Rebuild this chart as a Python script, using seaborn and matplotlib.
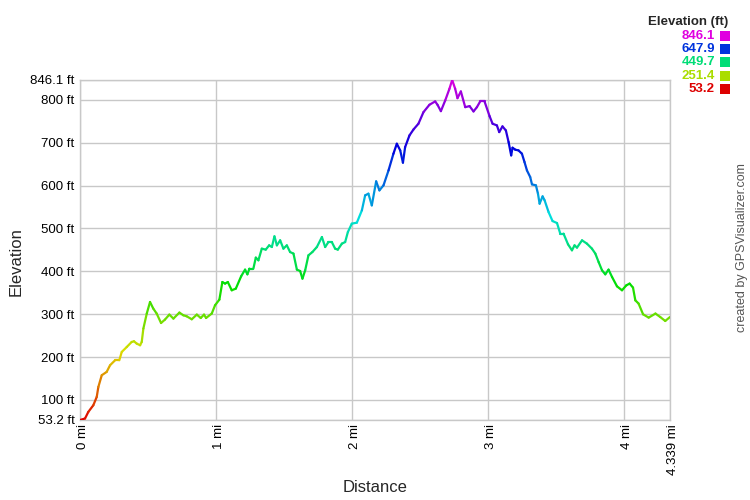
import numpy as np
import matplotlib
matplotlib.use("Agg")
import matplotlib.pyplot as plt
import matplotlib.colors as mcolors
import matplotlib.transforms as mtransforms
from matplotlib.collections import LineCollection
from matplotlib.patches import Rectangle
import seaborn as sns

# distance (mi) and elevation (ft)
distance = [
    0.0, 0.037, 0.061, 0.098, 0.123, 0.135, 0.160, 0.196, 0.221, 0.258, 0.289,
    0.307, 0.344, 0.380, 0.397, 0.417, 0.442, 0.454, 0.466, 0.491, 0.515, 0.539,
    0.564, 0.596, 0.625, 0.657, 0.687, 0.731, 0.760, 0.785, 0.822, 0.859, 0.888,
    0.912, 0.927, 0.969, 0.993, 1.025, 1.047, 1.067, 1.087, 1.116, 1.146, 1.185,
    1.214, 1.231, 1.246, 1.275, 1.293, 1.312, 1.337, 1.366, 1.391, 1.411, 1.430,
    1.448, 1.472, 1.496, 1.521, 1.545, 1.570, 1.595, 1.619, 1.636, 1.656, 1.680,
    1.709, 1.742, 1.779, 1.803, 1.827, 1.852, 1.876, 1.896, 1.926, 1.950, 1.970,
    1.999, 2.036, 2.073, 2.097, 2.121, 2.146, 2.178, 2.202, 2.232, 2.269, 2.305,
    2.330, 2.355, 2.375, 2.391, 2.423, 2.453, 2.489, 2.526, 2.570, 2.612, 2.629,
    2.654, 2.686, 2.717, 2.737, 2.759, 2.776, 2.801, 2.833, 2.865, 2.894, 2.919,
    2.943, 2.975, 3.012, 3.034, 3.066, 3.083, 3.107, 3.132, 3.152, 3.171, 3.181,
    3.201, 3.225, 3.250, 3.269, 3.287, 3.311, 3.324, 3.353, 3.368, 3.380, 3.402,
    3.417, 3.446, 3.475, 3.508, 3.532, 3.556, 3.589, 3.618, 3.637, 3.655, 3.692,
    3.728, 3.765, 3.790, 3.814, 3.839, 3.863, 3.887, 3.913, 3.949, 3.986, 4.018,
    4.042, 4.067, 4.084, 4.108, 4.141, 4.182, 4.232, 4.267, 4.304, 4.339,
]
elevation = [
    53.2, 56.7, 72.0, 87.6, 107.0, 130.3, 157.6, 165.3, 180.9, 192.5, 192.5,
    211.9, 223.5, 235.2, 236.8, 231.4, 227.5, 235.2, 266.4, 301.4, 328.4, 313.0,
    301.4, 279.4, 287.4, 299.0, 289.7, 303.7, 297.4, 295.0, 288.1, 299.0, 291.1,
    299.0, 291.1, 301.4, 320.7, 334.0, 375.0, 371.3, 375.0, 355.7, 359.6, 388.3,
    403.9, 392.9, 406.2, 406.2, 431.9, 425.6, 452.8, 450.5, 460.5, 456.6, 481.5,
    460.5, 472.2, 452.8, 460.5, 444.9, 441.2, 403.9, 400.6, 382.9, 402.3, 437.2,
    444.9, 456.6, 479.9, 456.6, 468.2, 468.2, 452.8, 450.5, 464.5, 468.2, 491.5,
    511.1, 513.4, 542.1, 577.1, 581.0, 553.7, 609.7, 588.7, 600.4, 635.3, 674.2,
    697.5, 681.9, 653.3, 689.6, 716.9, 730.9, 744.2, 771.2, 788.4, 796.1, 788.4,
    773.5, 798.5, 825.7, 846.1, 825.7, 803.8, 819.4, 782.8, 785.2, 772.8, 782.8,
    796.1, 796.1, 761.9, 744.2, 740.2, 724.6, 737.9, 728.5, 701.3, 670.3, 688.2,
    683.6, 681.9, 674.2, 654.7, 635.3, 619.7, 602.7, 600.4, 581.0, 557.7, 574.7,
    565.4, 538.1, 517.2, 512.5, 487.8, 487.8, 462.9, 448.9, 460.5, 455.2, 472.2,
    464.5, 452.8, 441.2, 421.6, 402.3, 392.9, 403.9, 386.6, 365.0, 355.7, 367.3,
    371.3, 361.9, 332.3, 324.7, 299.7, 292.0, 301.4, 293.4, 284.1, 293.4,
]

y_ticks = [53.2, 100, 200, 300, 400, 500, 600, 700, 800, 846.1]
y_labels = ["53.2 ft", "100 ft", "200 ft", "300 ft", "400 ft", "500 ft",
            "600 ft", "700 ft", "800 ft", "846.1 ft"]
x_ticks = [0, 1, 2, 3, 4, 4.339]
x_labels = ["0 mi", "1 mi", "2 mi", "3 mi", "4 mi", "4.339 mi"]
legend_values = ["846.1", "647.9", "449.7", "251.4", "53.2"]
legend_colors = ["#e000e0", "#0033dd", "#00dd77", "#aadd00", "#dd0000"]

E_MIN, E_MAX = 53.2, 846.1


def elev_color(e):
    # hue runs red -> yellow -> green -> cyan -> blue -> magenta
    h = (e - E_MIN) / (E_MAX - E_MIN) * (300.0 / 360.0)
    return mcolors.hsv_to_rgb((h, 1.0, 0.87))


sns.set_style("white")
plt.rcParams["font.family"] = ["Liberation Sans", "DejaVu Sans"]

fig = plt.figure(figsize=(7.5, 5), dpi=100)
ax = fig.add_axes([80 / 750, 80 / 500, 590 / 750, 340 / 500])

x = np.array(distance)
y = np.array(elevation)
pts = np.column_stack([x, y]).reshape(-1, 1, 2)
segs = np.concatenate([pts[:-1], pts[1:]], axis=1)
cols = [elev_color((a + b) / 2) for a, b in zip(y[:-1], y[1:])]
lc = LineCollection(segs, colors=cols, linewidths=1.6, capstyle="round",
                    joinstyle="round", zorder=3)
ax.add_collection(lc)

ax.set_xlim(0, 4.339)
ax.set_ylim(E_MIN, E_MAX)
ax.set_xticks(x_ticks)
ax.set_xticklabels(x_labels, rotation=90, va="top", ha="center")
ax.set_yticks(y_ticks)
ax.set_yticklabels(y_labels)
ax.tick_params(axis="both", length=0, labelsize=9.5, colors="#000000")
ax.tick_params(axis="x", pad=3)
ax.tick_params(axis="y", pad=4)
shift = mtransforms.ScaledTranslation(3 / 100, 0, fig.dpi_scale_trans)
for lbl in ax.get_xticklabels():
    lbl.set_transform(lbl.get_transform() + shift)
ax.grid(True, color="#c8c8c8", linewidth=1.0)
for s in ax.spines.values():
    s.set_color("#c8c8c8")
    s.set_linewidth(1.0)
ax.set_xlabel("")
ax.set_ylabel("")

fig.text(375 / 750, 1 - 488 / 500, "Distance", ha="center", va="center",
         fontsize=12)
fig.text(16 / 750, 1 - 262 / 500, "Elevation", ha="center", va="center",
         rotation=90, fontsize=12)
fig.text(742 / 750, 1 - 248 / 500, "created by GPSVisualizer.com",
         ha="center", va="center", rotation=90, fontsize=9, color="#555555")

# legend
fig.text(728 / 750, 1 - 22 / 500, "Elevation (ft)", ha="right", va="center",
         fontsize=9.5, fontweight="bold")
for i, (val, c) in enumerate(zip(legend_values, legend_colors)):
    yc = 36 + i * 13.2
    fig.text(715 / 750, 1 - yc / 500, val, ha="right", va="center",
             fontsize=9.5, fontweight="bold", color=c)
    fig.add_artist(Rectangle((720 / 750, 1 - (yc + 5) / 500), 10 / 750, 10 / 500,
                             transform=fig.transFigure, color=c, lw=0))

fig.savefig("out.png", dpi=100)
plt.close(fig)
